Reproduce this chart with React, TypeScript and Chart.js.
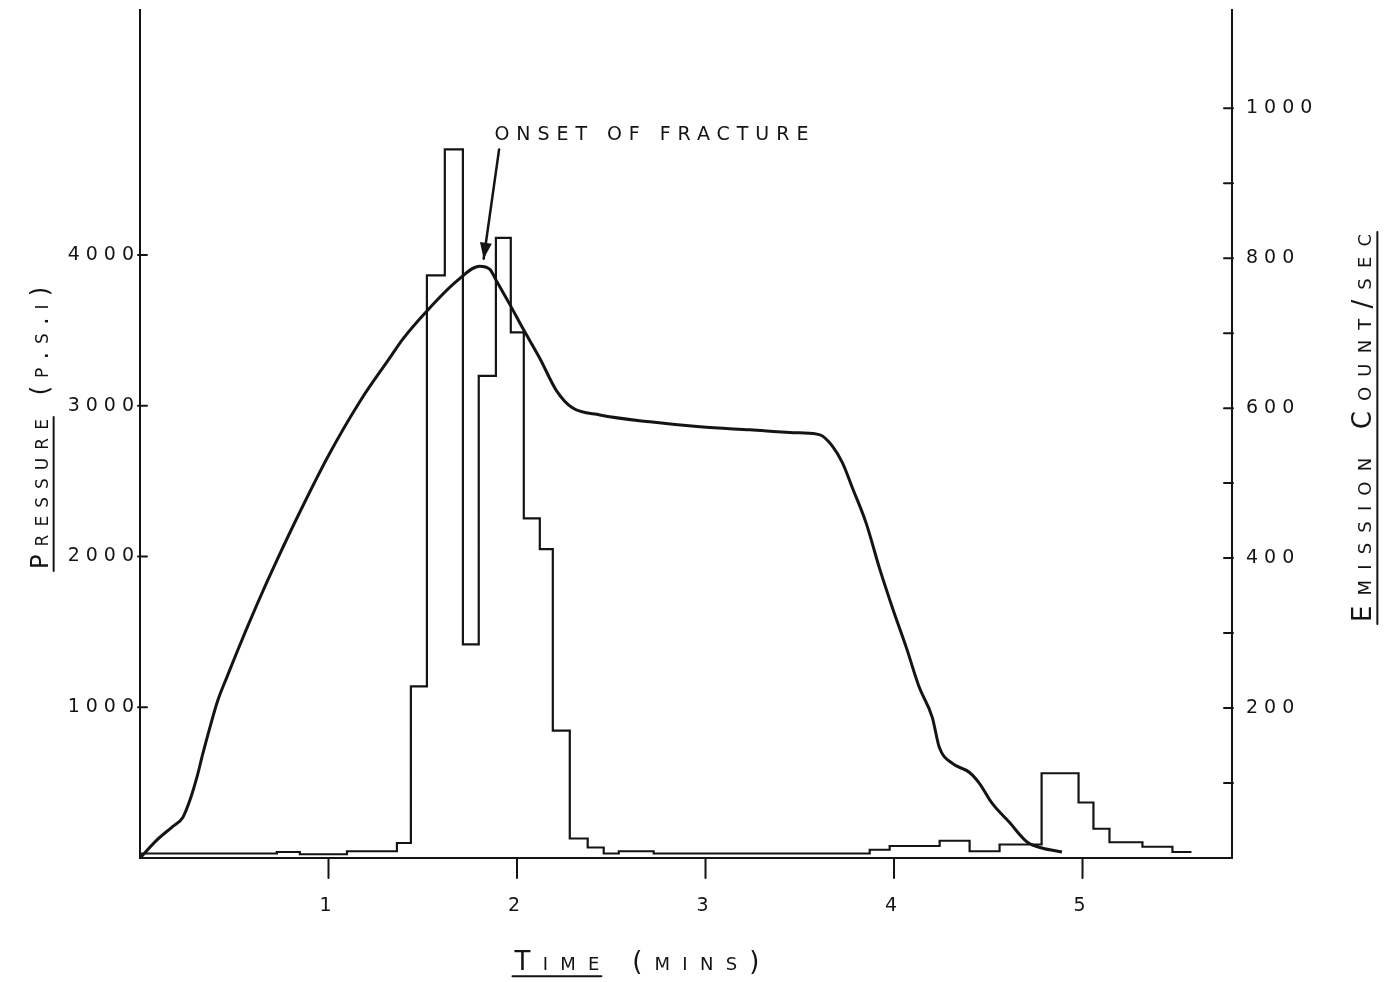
import React, { useEffect, useRef } from 'react';
import { Chart, registerables } from 'chart.js';

Chart.register(...registerables);

const INK = '#141414';
const FONT = '"DejaVu Sans", "Liberation Sans", sans-serif';

// ---- tick values ----
const timeTicks = [1, 2, 3, 4, 5];
const pressureTicks = [1000, 2000, 3000, 4000];
const emissionTicks = [100, 200, 300, 400, 500, 600, 700, 800, 900, 1000];
const emissionLabelled = [200, 400, 600, 800, 1000];

// ---- pressure curve (time in mins, pressure in p.s.i) ----
const pressureTime = [
  0, 0.089, 0.17, 0.228, 0.265, 0.302, 0.334, 0.371, 0.413, 0.461,
  0.514, 0.567, 0.62, 0.673, 0.726, 0.85, 1.0, 1.17, 1.325, 1.394,
  1.521, 1.68, 1.802, 1.855, 1.892, 1.961, 2.03, 2.12, 2.21, 2.294,
  2.44, 2.705, 2.971, 3.236, 3.5, 3.607, 3.672, 3.726, 3.779, 3.853,
  3.922, 3.991, 4.065, 4.134, 4.203, 4.24, 4.308, 4.399, 4.452, 4.52,
  4.611, 4.706, 4.785, 4.891,
];
const pressurePsi = [
  0, 119, 205, 271, 384, 536, 695, 867, 1046, 1200,
  1365, 1525, 1680, 1830, 1975, 2300, 2670, 3035, 3317, 3442,
  3627, 3826, 3926, 3906, 3826, 3674, 3515, 3317, 3099, 2986,
  2939, 2893, 2860, 2840, 2820, 2807, 2734, 2622, 2456, 2218,
  1926, 1662, 1397, 1132, 933, 735, 629, 569, 497, 364,
  238, 106, 66, 40,
];

// ---- emission count histogram (bin start time in mins, count/sec) ----
const emissionEdges = [
  0, 0.726, 0.848, 1.098, 1.363, 1.437, 1.522, 1.617, 1.713, 1.797,
  1.888, 1.967, 2.036, 2.121, 2.19, 2.28, 2.375, 2.46, 2.54, 2.725,
  3.871, 3.977, 4.242, 4.401, 4.56, 4.783, 4.979, 5.058, 5.143, 5.318,
  5.477,
];
const emissionCounts = [
  6, 8, 5, 9, 20, 229, 777, 945, 285, 643,
  827, 701, 453, 412, 170, 26, 14, 6, 9, 6,
  11, 16, 23, 9, 18, 113, 74, 39, 21, 15,
  8,
];
const emissionEnd = 5.578;

// ---- texts ----
const xTitle = 'Time (mins)';
const yTitle = 'Pressure (p.s.i)';
const yRTitle = 'Emission Count/sec';
const noteText = 'ONSET OF FRACTURE';
const noteTip = { x: 1.823, y: 3975 };
const noteTail = { x: 1.905, y: 4700 };
const noteTextAnchor = { x: 1.88, y: 4810 };

function drawSpaced(
  ctx: CanvasRenderingContext2D,
  text: string,
  cx: number,
  cy: number,
  rot: number,
  target: number,
  size: number,
  smallCaps: boolean,
  underlineChars: number
) {
  const c: any = ctx;
  ctx.save();
  ctx.translate(cx, cy);
  ctx.rotate(rot);
  ctx.font = `${smallCaps ? 'small-caps ' : ''}${size}px ${FONT}`;
  if ('fontVariantCaps' in c) c.fontVariantCaps = smallCaps ? 'small-caps' : 'normal';
  if ('letterSpacing' in c) c.letterSpacing = '0px';
  const base = ctx.measureText(text).width;
  const partBase = underlineChars ? ctx.measureText(text.slice(0, underlineChars)).width : 0;
  const n = text.length;
  const sp = n > 1 ? (target - base) / (n - 1) : 0;
  const hasLS = 'letterSpacing' in c;
  ctx.fillStyle = INK;
  ctx.strokeStyle = INK;
  ctx.textAlign = 'left';
  ctx.textBaseline = 'alphabetic';
  const x0 = -target / 2;
  const by = size * 0.36;
  let ulW = 0;
  if (hasLS) {
    c.letterSpacing = `${sp}px`;
    ctx.fillText(text, x0, by);
    ulW = partBase + sp * (underlineChars - 1);
  } else {
    const k = target / base;
    ctx.save();
    ctx.translate(x0, 0);
    ctx.scale(k, 1);
    ctx.fillText(text, 0, by);
    ctx.restore();
    ulW = partBase * k;
  }
  if (underlineChars) {
    ctx.lineWidth = 2;
    ctx.beginPath();
    ctx.moveTo(x0 - 2, by + 6);
    ctx.lineTo(x0 + ulW + 2, by + 6);
    ctx.stroke();
  }
  ctx.restore();
}

const decorPlugin = {
  id: 'decor',
  beforeDraw(chart: any) {
    const c: any = chart.ctx;
    if ('letterSpacing' in c) c.letterSpacing = '6px';
  },
  afterDraw(chart: any) {
    const ctx: CanvasRenderingContext2D = chart.ctx;
    const c: any = ctx;
    const x = chart.scales.x;
    const y = chart.scales.y;
    const yR = chart.scales.yR;
    ctx.save();
    if ('letterSpacing' in c) c.letterSpacing = '0px';
    ctx.strokeStyle = INK;
    ctx.lineWidth = 2;
    ctx.lineCap = 'round';
    ctx.beginPath();
    for (const t of x.ticks) {
      const px = x.getPixelForValue(t.value);
      ctx.moveTo(px, x.top);
      ctx.lineTo(px, x.top + 20);
    }
    for (const t of y.ticks) {
      const py = y.getPixelForValue(t.value);
      ctx.moveTo(y.right - 2, py);
      ctx.lineTo(y.right + 7, py);
    }
    for (const t of yR.ticks) {
      const py = yR.getPixelForValue(t.value);
      ctx.moveTo(yR.left + 1, py);
      ctx.lineTo(yR.left - 8, py);
    }
    ctx.stroke();

    // axis titles
    drawSpaced(ctx, yTitle, 39, 428, -Math.PI / 2, 282, 24, true, 8);
    drawSpaced(ctx, yRTitle, 1362, 428, -Math.PI / 2, 388, 26, true, yRTitle.length);
    drawSpaced(ctx, xTitle, 637, 961, 0, 245, 26, true, 4);

    // annotation
    const tx = x.getPixelForValue(noteTextAnchor.x);
    const ty = y.getPixelForValue(noteTextAnchor.y);
    drawSpaced(ctx, noteText, tx + 157, ty, 0, 314, 19, false, 0);

    const ax = x.getPixelForValue(noteTail.x);
    const ay = y.getPixelForValue(noteTail.y);
    const bx = x.getPixelForValue(noteTip.x);
    const byy = y.getPixelForValue(noteTip.y);
    ctx.lineWidth = 2.5;
    ctx.beginPath();
    ctx.moveTo(ax, ay);
    ctx.lineTo(bx, byy);
    ctx.stroke();
    const ang = Math.atan2(byy - ay, bx - ax);
    const hl = 16;
    const hw = 6;
    ctx.fillStyle = INK;
    ctx.beginPath();
    ctx.moveTo(bx, byy);
    ctx.lineTo(bx - hl * Math.cos(ang) + hw * Math.sin(ang), byy - hl * Math.sin(ang) - hw * Math.cos(ang));
    ctx.lineTo(bx - hl * Math.cos(ang) - hw * Math.sin(ang), byy - hl * Math.sin(ang) + hw * Math.cos(ang));
    ctx.closePath();
    ctx.fill();
    ctx.restore();
    if ('letterSpacing' in c) c.letterSpacing = '0px';
  },
};

export default function App() {
  const ref = useRef<HTMLCanvasElement | null>(null);

  useEffect(() => {
    if (!ref.current) return;

    const pressureData = pressureTime.map((t, i) => ({ x: t, y: pressurePsi[i] }));
    const histData: { x: number; y: number }[] = [];
    emissionEdges.forEach((e, i) => {
      if (i > 0) histData.push({ x: e, y: emissionCounts[i - 1] });
      histData.push({ x: e, y: emissionCounts[i] });
    });
    histData.push({ x: emissionEnd, y: emissionCounts[emissionCounts.length - 1] });

    const tickFont = { family: FONT, size: 19 };
    const plain = (v: any) => String(v);

    const chart = new Chart(ref.current, {
      type: 'line',
      data: {
        datasets: [
          {
            label: 'Pressure',
            data: pressureData,
            yAxisID: 'y',
            borderColor: INK,
            borderWidth: 3,
            pointRadius: 0,
            fill: false,
            cubicInterpolationMode: 'monotone',
          },
          {
            label: 'Emission count',
            data: histData,
            yAxisID: 'yR',
            borderColor: INK,
            borderWidth: 2.2,
            pointRadius: 0,
            fill: false,
            tension: 0,
          },
        ],
      },
      options: {
        responsive: false,
        animation: false,
        devicePixelRatio: 1,
        layout: { padding: 0 },
        plugins: {
          legend: { display: false },
          tooltip: { enabled: false },
          title: { display: false },
        },
        scales: {
          x: {
            type: 'linear',
            position: 'bottom',
            min: 0,
            max: 5.793,
            afterBuildTicks: (s: any) => {
              s.ticks = timeTicks.map((v) => ({ value: v }));
            },
            afterFit: (s: any) => {
              s.height = 124;
              s.paddingLeft = 0;
              s.paddingRight = 0;
            },
            grid: { display: true, drawOnChartArea: false, drawTicks: false },
            border: { display: true, color: INK, width: 2 },
            ticks: { color: INK, font: tickFont, padding: 37, maxRotation: 0, autoSkip: false, callback: plain },
          },
          y: {
            type: 'linear',
            position: 'left',
            min: 0,
            max: 5625,
            afterBuildTicks: (s: any) => {
              s.ticks = pressureTicks.map((v) => ({ value: v }));
            },
            afterFit: (s: any) => {
              s.width = 140;
              s.paddingTop = 10;
              s.paddingBottom = 0;
            },
            grid: { display: true, drawOnChartArea: false, drawTicks: false },
            border: { display: true, color: INK, width: 2 },
            ticks: { color: INK, font: tickFont, padding: 0, autoSkip: false, callback: plain },
          },
          yR: {
            type: 'linear',
            position: 'right',
            min: 0,
            max: 1131,
            afterBuildTicks: (s: any) => {
              s.ticks = emissionTicks.map((v) => ({ value: v }));
            },
            afterFit: (s: any) => {
              s.width = 164;
              s.paddingTop = 10;
              s.paddingBottom = 0;
            },
            grid: { display: true, drawOnChartArea: false, drawTicks: false },
            border: { display: true, color: INK, width: 2 },
            ticks: {
              color: INK,
              font: tickFont,
              padding: 14,
              autoSkip: false,
              callback: (v: any) => (emissionLabelled.includes(Number(v)) ? String(v) : ''),
            },
          },
        },
      },
      plugins: [decorPlugin],
    } as any);

    return () => chart.destroy();
  }, []);

  return (
    <div style={{ position: 'fixed', left: 0, top: 0, width: 1396, height: 982, background: '#fff' }}>
      <canvas ref={ref} width={1396} height={982} style={{ display: 'block' }} />
    </div>
  );
}
